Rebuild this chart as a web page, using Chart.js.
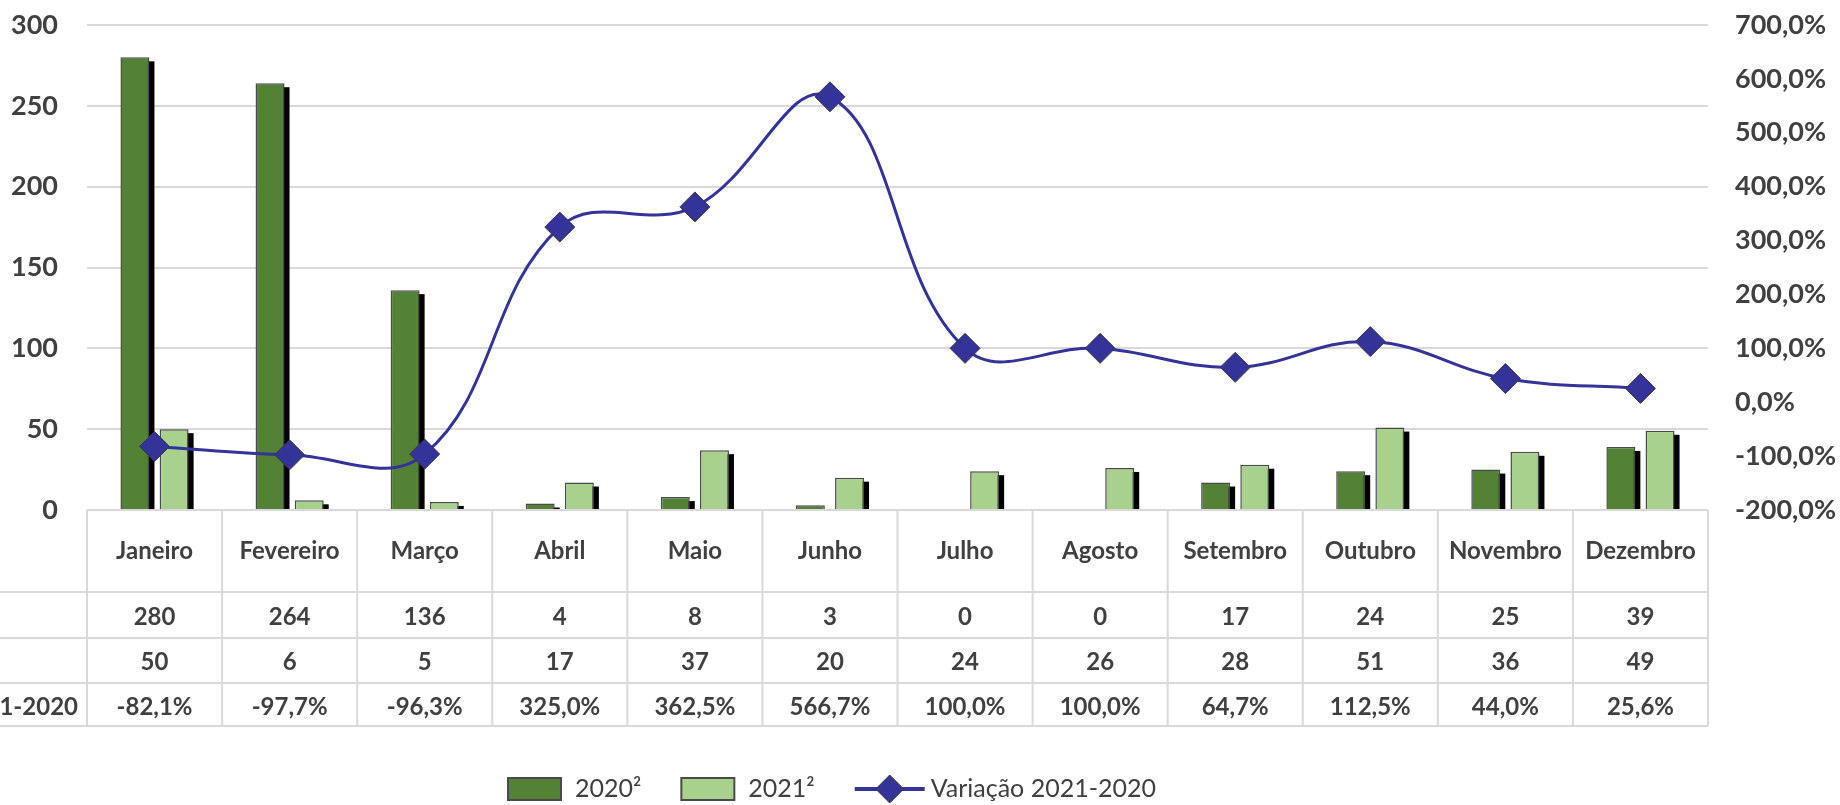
<!DOCTYPE html>
<html>
<head>
<meta charset="utf-8">
<script src="https://cdn.jsdelivr.net/npm/chart.js@4/dist/chart.umd.min.js"></script>
<style>
  html, body { margin: 0; padding: 0; background: #fff; }
</style>
</head>
<body>
<canvas id="grafico" width="1840" height="805"></canvas>
<script>
// dados
const meses = ['Janeiro', 'Fevereiro', 'Março', 'Abril', 'Maio', 'Junho', 'Julho', 'Agosto', 'Setembro', 'Outubro', 'Novembro', 'Dezembro'];
const valores2020 = [280, 264, 136, 4, 8, 3, 0, 0, 17, 24, 25, 39];
const valores2021 = [50, 6, 5, 17, 37, 20, 24, 26, 28, 51, 36, 49];
const variacao = [-82.1, -97.7, -96.3, 325.0, 362.5, 566.7, 100.0, 100.0, 64.7, 112.5, 44.0, 25.6];
const rotulos = ['2020²', '2021²', 'Variação 2021-2020'];
const eixoEsq = [0, 300, 50];      // min, max, passo
const eixoDir = [-200, 700, 100];  // min, max, passo

const corTexto = '#404040';
const corGrade = '#d9d9d9';
const fonteNegrito = 'bold 24px Lato';

function pct(v) {
    return v.toFixed(1).replace('.', ',') + '%';
}

// sombra preta atrás das barras
const sombra = {
    id: 'sombra',
    beforeDatasetDraw(chart, args) {
        const ds = chart.data.datasets[args.index];
        if (ds.type === 'line') return;
        const ctx = chart.ctx;
        const fundo = chart.chartArea.bottom;
        ctx.save();
        ctx.fillStyle = '#000';
        args.meta.data.forEach(el => {
            const p = el.getProps(['x', 'y', 'base', 'width'], true);
            const h = Math.min(p.base, fundo) - (p.y + 4);
            if (h > 0) ctx.fillRect(p.x - p.width / 2 + 5, p.y + 4, p.width, h);
        });
        ctx.restore();
    }
};

// tabela de dados + legenda
const tabela = {
    id: 'tabela',
    afterDraw(chart) {
        const ctx = chart.ctx;
        const area = chart.chartArea;
        const x = chart.scales.x;
        const n = meses.length;
        const col = (area.right - area.left) / n;
        const topo = area.bottom;
        const linhas = [topo, topo + 82, topo + 128, topo + 173, topo + 216];

        ctx.save();
        ctx.strokeStyle = corGrade;
        ctx.lineWidth = 2;
        ctx.beginPath();
        ctx.moveTo(area.left, linhas[0]); ctx.lineTo(area.right, linhas[0]);
        for (let r = 1; r < linhas.length; r++) {
            ctx.moveTo(0, linhas[r]); ctx.lineTo(area.right, linhas[r]);
        }
        for (let i = 0; i <= n; i++) {
            const cx = area.left + i * col;
            ctx.moveTo(cx, linhas[0]); ctx.lineTo(cx, linhas[4]);
        }
        ctx.stroke();

        ctx.fillStyle = corTexto;
        ctx.font = fonteNegrito;
        ctx.textBaseline = 'middle';
        ctx.textAlign = 'center';
        const linhasTexto = [
            meses,
            valores2020.map(String),
            valores2021.map(String),
            variacao.map(pct)
        ];
        const centros = [topo + 41, topo + 107, topo + 152, topo + 197];
        linhasTexto.forEach((arr, r) => {
            arr.forEach((t, i) => ctx.fillText(t, x.getPixelForValue(i), centros[r]));
        });
        ctx.textAlign = 'right';
        ctx.fillText(rotulos[2], area.left - 9, centros[3]);

        // legenda
        const ly = 789;
        let lx = 508;
        ctx.font = '25px Lato';
        ctx.textAlign = 'left';
        chart.data.datasets.forEach(ds => {
            if (ds.type === 'line') {
                ctx.strokeStyle = ds.borderColor;
                ctx.lineWidth = 4;
                ctx.beginPath();
                ctx.moveTo(lx, ly); ctx.lineTo(lx + 70, ly);
                ctx.stroke();
                ctx.fillStyle = ds.pointBackgroundColor;
                ctx.strokeStyle = ds.pointBorderColor;
                ctx.lineWidth = 1;
                ctx.beginPath();
                ctx.moveTo(lx + 35, ly - 14); ctx.lineTo(lx + 49, ly);
                ctx.lineTo(lx + 35, ly + 14); ctx.lineTo(lx + 21, ly);
                ctx.closePath(); ctx.fill(); ctx.stroke();
                ctx.fillStyle = corTexto;
                ctx.fillText(ds.label, lx + 76, ly);
                lx += 76 + ctx.measureText(ds.label).width;
            } else {
                ctx.fillStyle = ds.backgroundColor;
                ctx.fillRect(lx, ly - 11, 53, 22);
                ctx.strokeStyle = ds.borderColor;
                ctx.lineWidth = 2;
                ctx.strokeRect(lx, ly - 11, 53, 22);
                ctx.fillStyle = corTexto;
                ctx.fillText(ds.label, lx + 67, ly);
                lx += 67 + ctx.measureText(ds.label).width + 40;
            }
        });
        ctx.restore();
    }
};

new Chart(document.getElementById('grafico'), {
    type: 'bar',
    data: {
        labels: meses,
        datasets: [
            {
                label: rotulos[0],
                data: valores2020,
                yAxisID: 'y',
                order: 1,
                backgroundColor: '#538135',
                borderColor: '#4a4a4a',
                borderWidth: 1.5,
                categoryPercentage: 0.58,
                barPercentage: 0.74
            },
            {
                label: rotulos[1],
                data: valores2021,
                yAxisID: 'y',
                order: 1,
                backgroundColor: '#A9D18E',
                borderColor: '#4a4a4a',
                borderWidth: 1.5,
                categoryPercentage: 0.58,
                barPercentage: 0.74
            },
            {
                type: 'line',
                label: rotulos[2],
                data: variacao,
                yAxisID: 'y1',
                order: 0,
                borderColor: '#333399',
                borderWidth: 3,
                tension: 0.4,
                pointStyle: 'rectRot',
                pointRadius: 15,
                pointBackgroundColor: '#333399',
                pointBorderColor: '#3a3a3a',
                pointBorderWidth: 1
            }
        ]
    },
    options: {
        responsive: false,
        animation: false,
        layout: { autoPadding: false, padding: { top: 25, bottom: 295, left: 0, right: 0 } },
        plugins: {
            legend: { display: false },
            tooltip: { enabled: false }
        },
        scales: {
            x: { display: false },
            y: {
                position: 'left',
                min: eixoEsq[0],
                max: eixoEsq[1],
                ticks: { stepSize: eixoEsq[2], padding: 29, color: corTexto, font: { family: 'Lato', size: 27, weight: 'bold' } },
                grid: { color: corGrade, lineWidth: 2, drawTicks: false },
                border: { display: false },
                afterFit(s) { s.width = 87; s.paddingTop = 0; s.paddingBottom = 0; }
            },
            y1: {
                position: 'right',
                min: eixoDir[0],
                max: eixoDir[1],
                ticks: { stepSize: eixoDir[2], padding: 27, color: corTexto, font: { family: 'Lato', size: 27, weight: 'bold' }, callback: v => pct(v) },
                grid: { display: false, drawTicks: false },
                border: { display: false },
                afterFit(s) { s.width = 132; s.paddingTop = 0; s.paddingBottom = 0; }
            }
        }
    },
    plugins: [sombra, tabela]
});
</script>
</body>
</html>
